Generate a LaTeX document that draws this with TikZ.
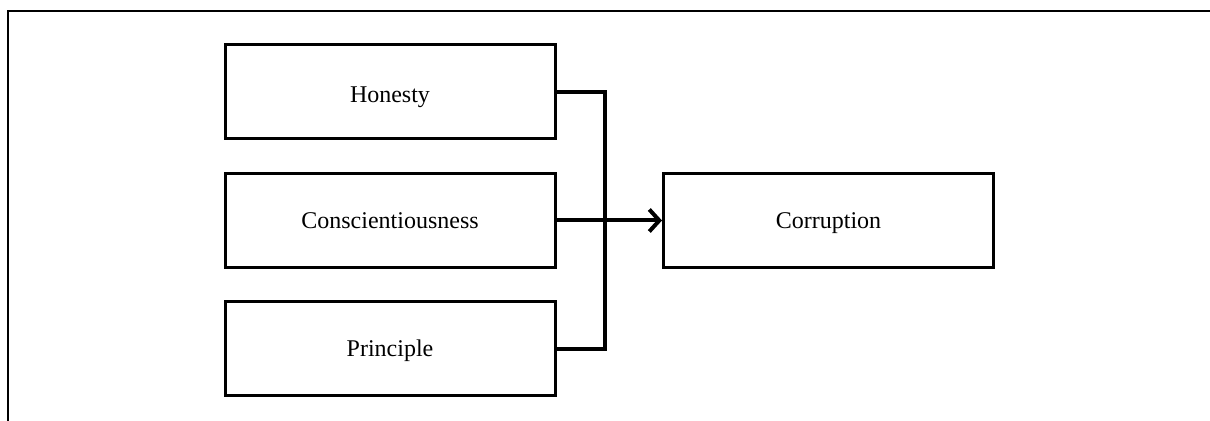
\documentclass[tikz,border=0pt]{standalone}
\usepackage{fontspec}
\setmainfont{Liberation Serif}
\usetikzlibrary{positioning}
\usetikzlibrary{arrows.meta}

\tikzset{
  factor/.style={draw,line width=1.5pt,minimum width=165pt,minimum height=47pt,inner sep=0pt,
    text height=8pt,text depth=0pt,font=\fontsize{12}{14}\selectfont},
  wire/.style={line width=2pt},
}

\begin{document}
\begin{tikzpicture}[x=0.5pt,y=-0.5pt,node distance=15.75pt]
  \useasboundingbox (0,0) rectangle (1210,421);
  % frame
  \draw[line width=1pt] (1210,11) -- (8,11) -- (8,421);
  \node[factor,text height=11pt](honesty) at (390,92) {Honesty};
  \node[factor,below= of honesty](consc) {Conscientiousness};
  \node[factor,below= of consc](principle) {Principle};
  \node[factor,right= 52.75pt of consc](corrupt) {Corruption};
  \coordinate[right= 24pt of honesty.east](bustop);
  \coordinate[right= 24pt of principle.east](busbot);
  \draw[wire] (honesty.east)--(bustop)--(busbot)--(principle.east);
  \draw[wire,-{Straight Barb[length=5pt,width=11pt]}] (consc)--(corrupt);
\end{tikzpicture}
\end{document}
